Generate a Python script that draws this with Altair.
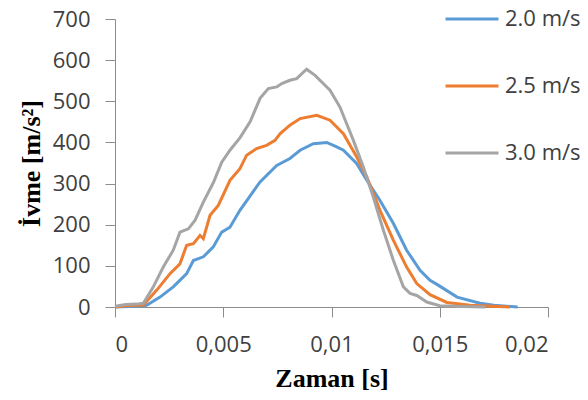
import altair as alt
import pandas as pd

# Zaman [s] and İvme [m/s²] for each speed
t_20 = [0, 0.001, 0.00146, 0.00208, 0.00269, 0.00331, 0.00362, 0.00408, 0.00454, 0.00493, 0.00531,
        0.00577, 0.0067, 0.00747, 0.00808, 0.00855, 0.00916, 0.00978, 0.01024, 0.01055, 0.01116,
        0.01163, 0.01224, 0.01286, 0.01347, 0.01409, 0.01455, 0.01487, 0.0158, 0.01686, 0.0175, 0.0186]
v_20 = [0, 2, 4, 24, 49, 81, 113, 122, 146, 182, 194,
        235, 304, 344, 361, 381, 397, 400, 389, 381, 349,
        308, 259, 203, 138, 89, 65, 55, 24, 9, 4, 0]

t_25 = [0, 0.0005, 0.001, 0.00131, 0.00193, 0.00254, 0.0030, 0.00331, 0.00362, 0.00393, 0.00408,
        0.00439, 0.00477, 0.00531, 0.00577, 0.00608, 0.00654, 0.0070, 0.00739, 0.00762, 0.00808,
        0.00855, 0.00932, 0.00993, 0.01055, 0.01116, 0.01163, 0.01224, 0.01286, 0.01347, 0.01394,
        0.01455, 0.01533, 0.0164, 0.01825]
v_25 = [0, 3, 4, 5, 41, 81, 105, 150, 154, 174, 166,
        223, 247, 308, 336, 369, 385, 393, 405, 421, 442,
        458, 466, 454, 421, 365, 316, 235, 162, 97, 57,
        30, 11, 4, 0]

t_30 = [0, 0.0005, 0.001, 0.00131, 0.00177, 0.00223, 0.00269, 0.0030, 0.00339, 0.0037, 0.00408,
        0.00454, 0.00493, 0.00531, 0.00577, 0.00624, 0.0067, 0.00708, 0.00747, 0.0077, 0.00808,
        0.00839, 0.00885, 0.00924, 0.0097, 0.00993, 0.01039, 0.01101, 0.01147, 0.01193, 0.0124,
        0.01286, 0.01332, 0.01363, 0.01394, 0.0144, 0.0150, 0.0160, 0.0171]
v_30 = [2, 6, 7, 9, 49, 97, 138, 182, 190, 211, 255,
        302, 352, 381, 411, 450, 507, 531, 535, 543, 551,
        555, 578, 563, 539, 527, 486, 405, 340, 267, 186,
        113, 49, 33, 28, 12, 3, 1, 0]

series_names = ["2.0 m/s", "2.5 m/s", "3.0 m/s"]
series_colors = ["#5B9BD5", "#ED7D31", "#A5A5A5"]

frames = []
for name, ts, vs in zip(series_names, [t_20, t_25, t_30], [v_20, v_25, v_30]):
    frames.append(pd.DataFrame({"t": ts, "v": vs, "s": name, "o": range(len(ts))}))
df = pd.concat(frames, ignore_index=True)

x_ticks = [0, 0.005, 0.01, 0.015, 0.02]
y_ticks = [0, 100, 200, 300, 400, 500, 600, 700]

chart = alt.Chart(df).mark_line(strokeWidth=3).encode(
    x=alt.X("t:Q",
            scale=alt.Scale(domain=[0, 0.02], nice=False, zero=False),
            axis=alt.Axis(values=x_ticks, title="Zaman [s]",
                          labelExpr="replace(format(datum.value, '~g'), '.', ',')",
                          labelPadding=17, titleY=79, titleBaseline="alphabetic")),
    y=alt.Y("v:Q",
            scale=alt.Scale(domain=[0, 700], nice=False),
            axis=alt.Axis(values=y_ticks, title="İvme [m/s²]", labelPadding=15,
                          titleX=-76, titleBaseline="alphabetic")),
    color=alt.Color("s:N",
                    scale=alt.Scale(domain=series_names, range=series_colors),
                    legend=alt.Legend(title=None, orient="none", legendX=329, legendY=-28,
                                      direction="vertical", symbolType="stroke",
                                      symbolSize=2809, symbolStrokeWidth=3,
                                      labelFontSize=22, labelFont="Open Sans",
                                      labelColor="#404040", labelOffset=5,
                                      rowPadding=28, padding=0)),
    order="o:Q",
).properties(
    width=433, height=288,
    autosize=alt.AutoSizeParams(type="none"),
    padding={"left": 107, "top": 11, "right": 32, "bottom": 85},
).configure_view(stroke=None).configure_axis(
    grid=False,
    domainColor="#8C8C8C",
    tickColor="#8C8C8C",
    tickSize=10,
    labelFont="Open Sans",
    labelFontSize=22,
    labelColor="#404040",
    titleFont="Liberation Serif",
    titleFontSize=26,
    titleFontWeight="bold",
    titleColor="#000000",
)

chart.save("out.html", embed_options={"renderer": "svg", "actions": False})
